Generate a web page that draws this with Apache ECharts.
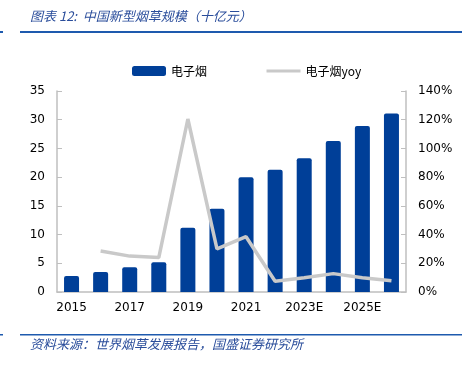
<!DOCTYPE html>
<html><head><meta charset="utf-8">
<script src="https://cdn.jsdelivr.net/npm/echarts@6/dist/echarts.min.js"></script>
<style>html,body{margin:0;padding:0;background:#fff}#c{width:462px;height:366px}</style>
</head><body><div id="c"></div>
<script>
var categories = ['2015','2016','2017','2018','2019','2020','2021','2022E','2023E','2024E','2025E','2026E'];
var ecigValues = [2.8, 3.5, 4.3, 5.2, 11.2, 14.5, 20.0, 21.3, 23.3, 26.3, 28.9, 31.1];
var ecigYoy = [null, 28.5, 25, 24, 120.5, 30, 38.5, 7.5, 10, 12.8, 10, 7.8];
var leftTicks = [0, 5, 10, 15, 20, 25, 30, 35];
var rightTicks = [0, 20, 40, 60, 80, 100, 120, 140];
var titleText = '图表 12:  中国新型烟草规模（十亿元）';
var sourceText = '资料来源：世界烟草发展报告，国盛证券研究所';

var chart = echarts.init(document.getElementById('c'));
var axisGray = '#BFBFBF';
var labelFont = {color: '#000', fontSize: 12, fontFamily: 'DejaVu Sans'};
chart.setOption({
  animation: false,
  graphic: [
    {type: 'text', left: 30, top: 10, style: {text: titleText, fill: '#2A4D9B', font: 'italic 13px "Noto Sans CJK SC"'}},
    {type: 'rect', shape: {x: 20, y: 31, width: 442, height: 2}, style: {fill: '#1E5AAE'}},
    {type: 'rect', shape: {x: 0, y: 31, width: 3, height: 2}, style: {fill: '#1E5AAE'}},
    {type: 'rect', shape: {x: 20, y: 334, width: 442, height: 1.5}, style: {fill: '#1E5AAE'}},
    {type: 'rect', shape: {x: 0, y: 334, width: 3, height: 1.5}, style: {fill: '#1E5AAE'}},
    {type: 'text', left: 30, top: 338, style: {text: sourceText, fill: '#2A4D9B', font: 'italic 13px "Noto Sans CJK SC"'}}
  ],
  legend: {
    top: 60, left: 127, itemGap: 58, itemWidth: 34, itemHeight: 10,
    textStyle: {fontSize: 12, fontFamily: '"Noto Sans CJK SC", "DejaVu Sans"', color: '#000'},
    data: [{name: '电子烟', icon: 'roundRect'},
           {name: '电子烟yoy', itemStyle: {opacity: 0}, lineStyle: {width: 3, color: '#C9C9C9'}}]
  },
  grid: {left: 57, right: 56, top: 91, bottom: 74, containLabel: false},
  xAxis: {
    type: 'category', data: categories,
    axisLine: {lineStyle: {color: axisGray, width: 1.5}},
    axisTick: {inside: true, length: 5, lineStyle: {color: axisGray}},
    axisLabel: Object.assign({interval: 1, margin: 10}, labelFont)
  },
  yAxis: [
    {type: 'value', min: 0, max: 35, interval: 5,
     axisLine: {show: true, lineStyle: {color: axisGray, width: 1.5}},
     axisTick: {show: true, inside: true, length: 5, lineStyle: {color: axisGray}},
     splitLine: {show: false},
     axisLabel: Object.assign({margin: 12, formatter: function(v){return leftTicks.indexOf(v) >= 0 ? String(v) : '';}}, labelFont)},
    {type: 'value', min: 0, max: 140, interval: 20, position: 'right',
     axisLine: {show: true, lineStyle: {color: axisGray, width: 1.5}},
     axisTick: {show: true, inside: true, length: 5, lineStyle: {color: axisGray}},
     splitLine: {show: false},
     axisLabel: Object.assign({margin: 12, formatter: function(v){return rightTicks.indexOf(v) >= 0 ? v + '%' : '';}}, labelFont)}
  ],
  series: [
    {name: '电子烟', type: 'bar', data: ecigValues, barWidth: 15, yAxisIndex: 0,
     itemStyle: {color: '#003F98', borderRadius: [2, 2, 0, 0]}},
    {name: '电子烟yoy', type: 'line', data: ecigYoy, yAxisIndex: 1, symbol: 'none',
     lineStyle: {color: '#C9C9C9', width: 3.5}, itemStyle: {color: '#C9C9C9'}}
  ]
});
</script></body></html>
